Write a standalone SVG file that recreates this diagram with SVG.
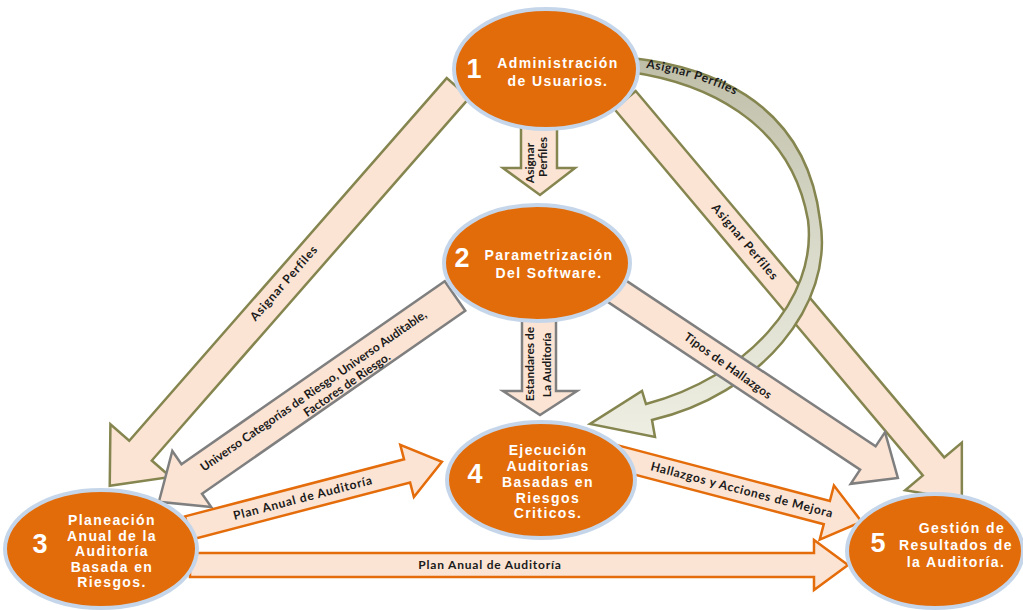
<svg xmlns="http://www.w3.org/2000/svg" width="1023" height="610" viewBox="0 0 1023 610">
<defs>
<linearGradient id="curveGrad" x1="0" y1="0" x2="0" y2="1">
<stop offset="0" stop-color="#BEBEA8"/>
<stop offset="0.5" stop-color="#DADACB"/>
<stop offset="1" stop-color="#EEEEE2"/>
</linearGradient>
<path id="curveTextPath" d="M 634 66 C 690 73, 745 92, 792 132"/>
</defs>
<style>
.olive{fill:#FBE4D4;stroke:#85854F;stroke-width:2.5;stroke-linejoin:miter}
.grey{fill:#FBE4D4;stroke:#7F7F7F;stroke-width:2.5;stroke-linejoin:miter}
.orng{fill:#FBE4D4;stroke:#E46C0A;stroke-width:2.5;stroke-linejoin:miter}
.lbl{font-family:Lato,"Open Sans","Liberation Sans",sans-serif;font-weight:bold;font-size:12px;fill:#1A1A1A}
.node ellipse{fill:#E36C0A;stroke:#C6D6EA;stroke-width:4}
.num{font-family:"Liberation Sans",Arial,sans-serif;font-weight:bold;font-size:27px;fill:#FFFFFF;text-anchor:middle}
.ntx{font-family:"Liberation Sans",Arial,sans-serif;font-weight:bold;font-size:14px;fill:#FFFFFF;text-anchor:middle;letter-spacing:1.4px}
</style>
<rect width="1023" height="610" fill="#FFFFFF"/>
<g id="connectors">
<!-- A: 1 -> 3 Asignar Perfiles -->
<path class="olive" transform="translate(458,88) rotate(131.2)" d="M0,-15 H482 V-40 L528.7,0 L482,40 V15 H0 Z"/>
<text class="lbl" font-size="11.5" letter-spacing="0.8" text-anchor="middle" transform="translate(284,283) rotate(-48.8)" x="0" y="4">Asignar Perfiles</text>
<!-- B: 1 -> 5 Asignar Perfiles -->
<path class="olive" transform="translate(625,100) rotate(49.9)" d="M0,-14 H479 V-37 L523,0 L479,37 V14 H0 Z"/>
<text class="lbl" font-size="11.5" letter-spacing="0.8" text-anchor="middle" transform="translate(745,242) rotate(49.9)" x="0" y="4">Asignar Perfiles</text>
<!-- J: curved 1 -> 4 Asignar Perfiles -->
<path fill="url(#curveGrad)" stroke="#85854F" stroke-width="2.5" d="M 632 58 C 700 66, 805 95, 820 220 C 835 305, 760 395, 652 420 L 655 437 L 590 424 L 642 391 L 646 404 C 745 378, 818 300, 808 220 C 790 118, 700 82, 630 72 Z"/>
<text class="lbl" font-size="10.5" letter-spacing="0.7"><textPath href="#curveTextPath" startOffset="12">Asignar Perfiles</textPath></text>
<!-- C: 2 -> 3 Universo ... -->
<path class="grey" transform="translate(455,296) rotate(145.2)" d="M0,-18 H320.6 V-34 L360.6,0 L320.6,34 V18 H0 Z"/>
<g transform="translate(307,399) rotate(-34.8)">
<text class="lbl" text-anchor="middle" x="10" y="1">Universo Categorías de Riesgo, Universo Auditable,</text>
<text class="lbl" text-anchor="middle" x="41" y="15">Factores de Riesgo.</text>
</g>
<!-- D: 2 -> 5 Tipos de Hallazgos -->
<path class="grey" transform="translate(603,282) rotate(33.6)" d="M0,-14 H318 V-31 L354,0 L318,31 V14 H0 Z"/>
<text class="lbl" letter-spacing="0.3" text-anchor="middle" transform="translate(728,366) rotate(35.5)" x="0" y="4">Tipos de Hallazgos</text>
<!-- E: 3 -> 4 Plan Anual -->
<path class="orng" transform="translate(188,528) rotate(-14.6)" d="M0,-12 H226.4 V-27 L262.4,0 L226.4,27 V12 H0 Z"/>
<text class="lbl" letter-spacing="0.8" text-anchor="middle" transform="translate(303,498) rotate(-14.6)" x="0" y="4">Plan Anual de Auditoría</text>
<!-- F: 4 -> 5 Hallazgos y Acciones de Mejora -->
<path class="orng" transform="translate(615,457) rotate(14.7)" d="M0,-12 H219 V-28 L255,0 L219,28 V12 H0 Z"/>
<text class="lbl" letter-spacing="0.7" text-anchor="middle" transform="translate(742,490) rotate(14.7)" x="0" y="4">Hallazgos  y Acciones de Mejora</text>
<!-- G: 3 -> 5 Plan Anual -->
<path class="orng" d="M190,553 H814 V540 L848,565 L814,590 V577 H190 Z"/>
<text class="lbl" letter-spacing="0.8" text-anchor="middle" x="490" y="569">Plan Anual de Auditoría</text>
<!-- H: 1 -> 2 -->
<path class="olive" d="M521,126 H557 V168 H575 L540,195 L503,168 H521 Z"/>
<text class="lbl" font-size="8.5" text-anchor="middle" transform="translate(534,163) rotate(-90)">Asignar</text>
<text class="lbl" font-size="8.5" text-anchor="middle" transform="translate(547,157) rotate(-90)">Perfiles</text>
<!-- I: 2 -> 4 -->
<path class="grey" d="M522,318 H556 V391 H577 L540,415 L503,391 H522 Z"/>
<text class="lbl" font-size="9.5" text-anchor="middle" transform="translate(534,364) rotate(-90)">Estandares de</text>
<text class="lbl" font-size="9.5" text-anchor="middle" transform="translate(551,365) rotate(-90)">La Auditoría</text>
</g>
<g id="node1" class="node">
<ellipse cx="546" cy="69" rx="92" ry="60"/>
<text class="num" x="474" y="78">1</text>
<text class="ntx" x="558" y="68">Administración</text>
<text class="ntx" x="558" y="86">de Usuarios.</text>
</g>
<g id="node2" class="node">
<ellipse cx="537" cy="263" rx="93" ry="58"/>
<text class="num" x="462" y="267">2</text>
<text class="ntx" x="549" y="260">Parametrización</text>
<text class="ntx" x="549" y="278">Del Software.</text>
</g>
<g id="node3" class="node">
<ellipse cx="101" cy="549" rx="96" ry="59"/>
<text class="num" x="40" y="553">3</text>
<text class="ntx" x="112" y="525">Planeación</text>
<text class="ntx" x="112" y="541">Anual de la</text>
<text class="ntx" x="112" y="556">Auditoría</text>
<text class="ntx" x="112" y="572">Basada en</text>
<text class="ntx" x="112" y="587">Riesgos.</text>
</g>
<g id="node4" class="node">
<ellipse cx="541" cy="480" rx="94" ry="58"/>
<text class="num" x="475" y="483">4</text>
<text class="ntx" x="548" y="455">Ejecución</text>
<text class="ntx" x="548" y="471">Auditorias</text>
<text class="ntx" x="548" y="487">Basadas en</text>
<text class="ntx" x="548" y="503">Riesgos</text>
<text class="ntx" x="548" y="518">Criticos.</text>
</g>
<g id="node5" class="node">
<ellipse cx="935" cy="551" rx="88" ry="57"/>
<text class="num" x="878" y="552">5</text>
<text class="ntx" x="962" y="533">Gestión de</text>
<text class="ntx" x="956" y="550">Resultados de</text>
<text class="ntx" x="956" y="567">la Auditoría.</text>
</g>
</svg>
